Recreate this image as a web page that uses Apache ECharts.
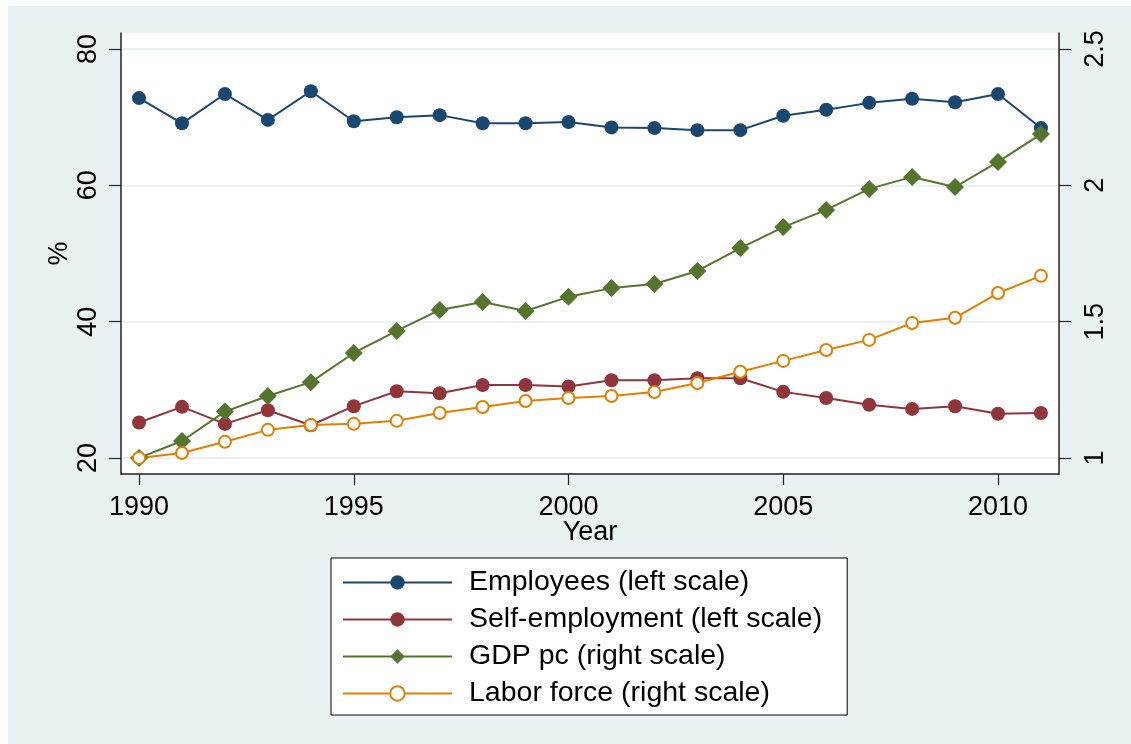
<!DOCTYPE html>
<html>
<head>
<meta charset="utf-8">
<script src="https://cdn.jsdelivr.net/npm/echarts@6/dist/echarts.min.js"></script>
<style>
  html, body { margin: 0; padding: 0; background: #ffffff; }
  #bg { position: absolute; left: 8px; top: 6px; width: 1123px; height: 738px; background: #EAF1F3; }
  #chart { position: absolute; left: 0; top: 0; width: 1131px; height: 744px; }
</style>
</head>
<body>
<div id="bg"></div>
<div id="chart"></div>
<script>
const years = [1990,1991,1992,1993,1994,1995,1996,1997,1998,1999,2000,2001,2002,2003,2004,2005,2006,2007,2008,2009,2010,2011];
const employees = [72.8,69.1,73.4,69.6,73.8,69.4,70.0,70.3,69.1,69.1,69.3,68.5,68.4,68.1,68.1,70.2,71.1,72.1,72.7,72.2,73.4,68.4];
const selfEmployment = [25.2,27.5,25.0,27.0,24.8,27.6,29.8,29.5,30.7,30.7,30.5,31.4,31.4,31.7,31.7,29.7,28.8,27.8,27.2,27.6,26.5,26.6];
const gdpPc = [1.000,1.062,1.170,1.227,1.278,1.385,1.466,1.543,1.572,1.539,1.591,1.623,1.638,1.686,1.770,1.847,1.910,1.987,2.031,1.994,2.086,2.188];
const laborForce = [1.000,1.018,1.059,1.103,1.121,1.125,1.136,1.165,1.187,1.209,1.220,1.227,1.242,1.275,1.316,1.356,1.396,1.433,1.495,1.514,1.605,1.668];
const xTicks = [1990,1995,2000,2005,2010];
const leftTicks = [20,40,60,80];
const rightTicks = [1,1.5,2,2.5];
const seriesNames = ['Employees (left scale)','Self-employment (left scale)','GDP pc (right scale)','Labor force (right scale)'];

const pair = arr => years.map((y, i) => [y, arr[i]]);
const FONT = 'Liberation Sans, Arial, sans-serif';
const AX = '#222';

const chart = echarts.init(document.getElementById('chart'), null, { renderer: 'canvas' });
chart.setOption({
  animation: false,
  backgroundColor: 'transparent',
  textStyle: { fontFamily: FONT, color: '#000' },
  grid: { left: 121, right: 72, top: 33, bottom: 270, show: true, backgroundColor: '#ffffff', borderWidth: 0, containLabel: false },
  xAxis: {
    type: 'value', min: 1989.58, max: 2011.42,
    name: 'Year', nameLocation: 'middle', nameGap: 45, nameMoveOverlap: false,
    nameTextStyle: { fontSize: 27, color: '#000', fontFamily: FONT },
    axisLine: { lineStyle: { color: AX, width: 1.5 } },
    axisTick: { customValues: xTicks, length: 11, lineStyle: { color: AX, width: 1.2 } },
    axisLabel: { customValues: xTicks, fontSize: 27, color: '#000', margin: 20, fontFamily: FONT, formatter: v => String(v) },
    splitLine: { show: false }
  },
  yAxis: [{
    type: 'value', min: 17.65, max: 82.35, position: 'left',
    name: '%', nameLocation: 'middle', nameGap: 48, nameRotate: 90, nameMoveOverlap: false,
    nameTextStyle: { fontSize: 27, color: '#000', fontFamily: FONT },
    axisLine: { show: true, lineStyle: { color: AX, width: 1.5 } },
    axisTick: { show: true, customValues: leftTicks, length: 12, lineStyle: { color: AX, width: 1.2 } },
    axisLabel: { customValues: leftTicks, rotate: 90, fontSize: 27, color: '#000', margin: 19, fontFamily: FONT, formatter: v => String(v) },
    splitLine: { show: true, lineStyle: { color: '#EAF1F3', width: 2 } }
  }, {
    type: 'value', min: 0.941, max: 2.559, position: 'right',
    axisLine: { show: true, lineStyle: { color: AX, width: 1.5 } },
    axisTick: { show: true, customValues: rightTicks, length: 12, lineStyle: { color: AX, width: 1.2 } },
    axisLabel: { customValues: rightTicks, rotate: 90, fontSize: 27, color: '#000', margin: 23, fontFamily: FONT, formatter: v => String(v) },
    splitLine: { show: false }
  }],
  legend: {
    orient: 'vertical', left: 331, top: 558,
    backgroundColor: '#ffffff', borderColor: '#000', borderWidth: 1,
    padding: [10, 25, 7, 11], itemGap: 8, itemWidth: 109, itemHeight: 18,
    textStyle: { fontSize: 28.5, lineHeight: 27, color: '#000', fontFamily: FONT, padding: [0, 0, 0, 12] },
    data: seriesNames
  },
  series: [{
    name: seriesNames[0], type: 'line', yAxisIndex: 0, data: pair(employees),
    symbol: 'circle', symbolSize: 14,
    lineStyle: { color: '#1a476f', width: 2 }, itemStyle: { color: '#1a476f' }
  }, {
    name: seriesNames[1], type: 'line', yAxisIndex: 0, data: pair(selfEmployment),
    symbol: 'circle', symbolSize: 14,
    lineStyle: { color: '#90353b', width: 2 }, itemStyle: { color: '#90353b' }
  }, {
    name: seriesNames[2], type: 'line', yAxisIndex: 1, data: pair(gdpPc),
    symbol: 'diamond', symbolSize: 18,
    lineStyle: { color: '#55752f', width: 2 }, itemStyle: { color: '#55752f' }
  }, {
    name: seriesNames[3], type: 'line', yAxisIndex: 1, data: pair(laborForce),
    symbol: 'emptyCircle', symbolSize: 12,
    lineStyle: { color: '#e37e00', width: 2 }, itemStyle: { color: '#e37e00', borderColor: '#e37e00', borderWidth: 2 }
  }]
});
</script>
</body>
</html>
